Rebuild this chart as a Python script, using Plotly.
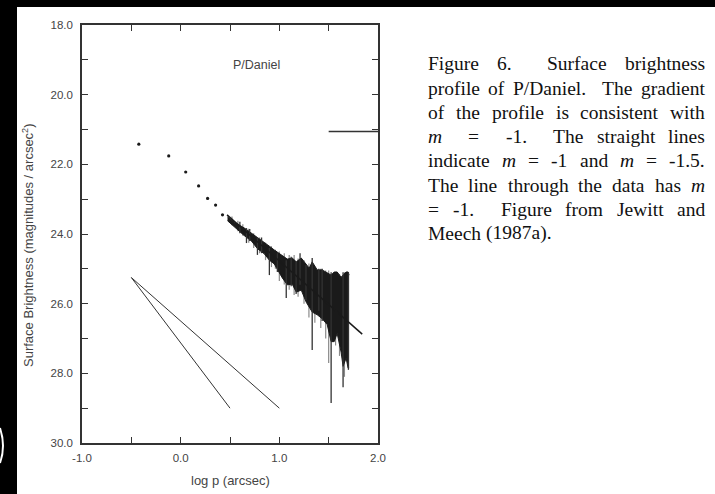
import plotly.graph_objects as go

# ---------------- data ----------------
dot_logp = [-0.424, -0.121, 0.051, 0.182, 0.273, 0.354, 0.424]
dot_mag = [21.42, 21.76, 22.22, 22.62, 22.98, 23.17, 23.45]

prof_logp = [0.475, 0.545, 0.646, 0.717, 0.778, 0.848, 0.899, 0.949, 1.030, 1.081,
             1.131, 1.172, 1.222, 1.273, 1.303, 1.333, 1.384, 1.434, 1.485, 1.525,
             1.556, 1.586, 1.626, 1.646, 1.677, 1.697, 1.707]
prof_upper = [23.51, 23.66, 23.83, 23.97, 24.09, 24.23, 24.35, 24.46, 24.63, 24.72,
              24.69, 24.80, 24.69, 24.89, 24.98, 24.80, 25.03, 25.03, 25.12, 25.18,
              25.09, 25.09, 25.24, 25.18, 25.09, 25.09, 25.18]
prof_lower = [23.62, 23.80, 24.05, 24.20, 24.42, 24.57, 24.75, 24.86, 25.26, 25.46,
              25.44, 25.67, 25.61, 25.96, 26.10, 26.24, 26.32, 26.43, 26.60, 27.09,
              27.09, 26.85, 27.39, 27.80, 27.56, 27.85, 27.85]

# dark vertical spikes
spike_logp = [0.60, 0.667, 0.70, 0.778, 0.82, 0.899, 0.98, 1.07, 1.12, 1.17, 1.21,
              1.27, 1.333, 1.40, 1.434, 1.525, 1.646, 1.70]
spike_top = [23.65, 23.83, 23.86, 24.09, 24.10, 24.40, 24.55, 24.75, 24.65, 24.80, 24.55,
             24.89, 24.69, 25.00, 25.00, 25.10, 25.10, 25.09]
spike_bottom = [23.98, 24.26, 24.20, 24.60, 24.55, 25.18, 25.09, 25.84, 25.50, 25.72, 25.46,
                25.90, 27.33, 26.20, 26.50, 28.85, 28.40, 27.90]

# light grey noise around the profile
fuzz_logp = [0.52, 0.58, 0.63, 0.69, 0.74, 0.80, 0.86, 0.92, 0.96, 1.00, 1.05, 1.10,
             1.15, 1.19, 1.25, 1.30, 1.36, 1.42, 1.47, 1.50, 1.57, 1.61, 1.66]
fuzz_top = [23.50, 23.62, 23.72, 23.85, 23.98, 24.10, 24.25, 24.35, 24.45, 24.50, 24.55,
            24.60, 24.60, 24.70, 24.75, 24.85, 24.95, 25.00, 25.05, 25.05, 25.10, 25.15, 25.10]
fuzz_bottom = [23.75, 23.92, 24.05, 24.25, 24.40, 24.55, 24.75, 24.95, 25.00, 25.35, 25.45,
               25.60, 25.75, 25.80, 26.00, 26.40, 26.55, 26.70, 27.00, 27.70, 27.20, 27.50, 28.10]

fit_logp = [0.47, 1.84]
fit_mag = [23.45, 26.875]

ref_m15_logp = [-0.5, 0.5]
ref_m15_mag = [25.25, 29.0]
ref_m10_logp = [-0.5, 1.0]
ref_m10_mag = [25.25, 29.0]

bar_logp = [1.5, 2.0]
bar_mag = [21.06, 21.06]

x_tickvals = [-1.0, -0.5, 0.0, 0.5, 1.0, 1.5, 2.0]
x_ticktext = ["-1.0", " ", "0.0", " ", "1.0", " ", "2.0"]
y_tickvals = [18, 19, 20, 21, 22, 23, 24, 25, 26, 27, 28, 29, 30]
y_ticktext = ["18.0", " ", "20.0", " ", "22.0", " ", "24.0", " ", "26.0", " ", "28.0", " ", "30.0"]

caption_lines = [
    ("Figure 6.  Surface brightness", True),
    ("profile of P/Daniel.  The gradient", True),
    ("of the profile is consistent with", True),
    ("<i>m</i>  =  -1.  The straight lines", True),
    ("indicate <i>m</i> = -1 and <i>m</i> = -1.5.", True),
    ("The line through the data has <i>m</i>", True),
    ("= -1.  Figure from Jewitt and", True),
    ("Meech (1987a).", False),
]

# ---------------- geometry helpers ----------------
W, H = 715, 494
L, R, T, B = 82, 378, 25, 443


def px(x):
    return (x - L) / (R - L)


def py(y):
    return (B - y) / (B - T)


INK = "#1a1a1a"
GREY = "#444444"

fig = go.Figure()


def segments(xs, tops, bots):
    sx, sy = [], []
    for xv, t, b in zip(xs, tops, bots):
        sx += [xv, xv, None]
        sy += [t, b, None]
    return sx, sy


# light fuzz
fx, fy = segments(fuzz_logp, fuzz_top, fuzz_bottom)
fig.add_trace(go.Scatter(x=fx, y=fy, mode="lines", line=dict(color="#8a8a8a", width=1.2),
                         showlegend=False, hoverinfo="skip"))

# noisy profile envelope (filled)
fig.add_trace(go.Scatter(x=prof_logp, y=prof_upper, mode="lines",
                         line=dict(color=INK, width=1), showlegend=False, hoverinfo="skip"))
fig.add_trace(go.Scatter(x=prof_logp, y=prof_lower, mode="lines", fill="tonexty",
                         fillcolor=INK, line=dict(color=INK, width=1),
                         showlegend=False, hoverinfo="skip"))

# dark spikes
sx, sy = segments(spike_logp, spike_top, spike_bottom)
fig.add_trace(go.Scatter(x=sx, y=sy, mode="lines", line=dict(color="#333333", width=1.3),
                         showlegend=False, hoverinfo="skip"))

# inner points
fig.add_trace(go.Scatter(x=dot_logp, y=dot_mag, mode="markers",
                         marker=dict(color=INK, size=3.2), showlegend=False))

# fit line
fig.add_trace(go.Scatter(x=fit_logp, y=fit_mag, mode="lines",
                         line=dict(color=INK, width=1.5), showlegend=False))

# reference slopes
fig.add_trace(go.Scatter(x=ref_m15_logp, y=ref_m15_mag, mode="lines",
                         line=dict(color="#333333", width=1), showlegend=False))
fig.add_trace(go.Scatter(x=ref_m10_logp, y=ref_m10_mag, mode="lines",
                         line=dict(color="#333333", width=1), showlegend=False))

# short bar top right
fig.add_trace(go.Scatter(x=bar_logp, y=bar_mag, mode="lines",
                         line=dict(color="#333333", width=1.5), showlegend=False))

axis_common = dict(showline=True, linecolor="#333333", linewidth=1.5, mirror="ticks",
                   ticks="inside", ticklen=6, tickwidth=1.2, tickcolor="#333333",
                   showgrid=False, zeroline=False,
                   tickfont=dict(family="Liberation Sans", size=11.5, color=GREY))

fig.update_xaxes(range=[-1, 2], tickmode="array", tickvals=x_tickvals, ticktext=x_ticktext,
                 ticklabelstandoff=3, **axis_common)
fig.update_yaxes(range=[30, 18], tickmode="array", tickvals=y_tickvals, ticktext=y_ticktext,
                 ticklabelstandoff=5, **axis_common)

shapes = [
    # white page over the black scan background
    dict(type="rect", xref="paper", yref="paper", x0=px(17), x1=px(W + 5), y0=py(H + 5),
         y1=py(7), fillcolor="white", line=dict(width=0), layer="below"),
    # little white arc at the left edge
    dict(type="path", xref="paper", yref="paper",
         path=f"M {px(0)},{py(428)} Q {px(6)},{py(446)} {px(0)},{py(463)}",
         line=dict(color="white", width=2), layer="above"),
]

annotations = [
    dict(text="log p (arcsec)", xref="paper", yref="paper", x=px(230), y=py(480),
         showarrow=False, xanchor="center", yanchor="middle",
         font=dict(family="Liberation Sans", size=13, color=GREY)),
    dict(text="Surface Brightness (magnitudes / arcsec<sup>2</sup>)", xref="paper", yref="paper",
         x=px(28), y=py(245), textangle=-90, showarrow=False, xanchor="center", yanchor="middle",
         font=dict(family="Liberation Sans", size=13, color=GREY)),
    dict(text="P/Daniel", xref="x", yref="y", x=0.77, y=19.15, showarrow=False,
         xanchor="center", yanchor="middle",
         font=dict(family="Liberation Sans", size=12.5, color=GREY)),
]

# justified caption, laid out word by word
TIMES = {" ": 250, "(": 333, ")": 333, "-": 333, ".": 250, "/": 278, "=": 564,
         "0": 500, "1": 500, "2": 500, "3": 500, "4": 500, "5": 500, "6": 500, "7": 500,
         "8": 500, "9": 500, "A": 722, "D": 722, "F": 556, "J": 389, "M": 889, "P": 556,
         "S": 556, "T": 611, "a": 444, "b": 500, "c": 444, "d": 500, "e": 444, "f": 333,
         "g": 500, "h": 500, "i": 278, "j": 278, "k": 500, "l": 278, "m": 778, "n": 500,
         "o": 500, "p": 500, "r": 333, "s": 389, "t": 278, "u": 500, "v": 500, "w": 722,
         "x": 500, "y": 500, "z": 444}
CAP_SIZE = 19.5
CAP_X0, CAP_X1 = 427, 704
CAP_Y0, CAP_DY = 64, 24.2


def word_width(tok):
    if tok == "<i>m</i>":
        return 722 * CAP_SIZE / 1000
    return sum(TIMES.get(c, 500) for c in tok) * CAP_SIZE / 1000


for li, (line, justify) in enumerate(caption_lines):
    toks = line.split(" ")
    words_w = sum(word_width(t) for t in toks if t)
    nsp = len(toks) - 1
    if justify and nsp > 0:
        sp = (CAP_X1 - CAP_X0 - words_w) / nsp
    else:
        sp = TIMES[" "] * CAP_SIZE / 1000
    cur = CAP_X0
    yy = CAP_Y0 + li * CAP_DY
    for i, t in enumerate(toks):
        if t:
            annotations.append(dict(text=t, xref="paper", yref="paper", x=px(cur), y=py(yy),
                                    showarrow=False, xanchor="left", yanchor="middle",
                                    borderpad=0,
                                    font=dict(family="Liberation Serif", size=CAP_SIZE,
                                              color="#111111")))
            cur += word_width(t)
        if i < nsp:
            cur += sp

fig.update_layout(width=W, height=H, autosize=False,
                  margin=dict(l=L, r=W - R, t=T, b=H - B, pad=0),
                  paper_bgcolor="black", plot_bgcolor="white",
                  shapes=shapes, annotations=annotations, showlegend=False)

fig.write_html("out.html", config={"displayModeBar": False},
               post_script="document.body.style.margin='0px';")
